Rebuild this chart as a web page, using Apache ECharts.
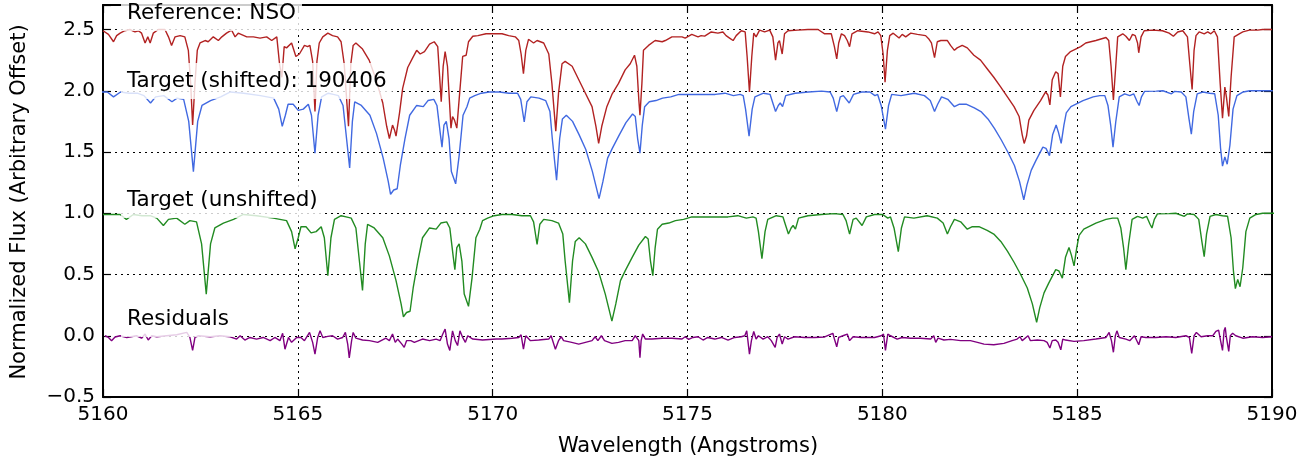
<!DOCTYPE html>
<html>
<head>
<meta charset="utf-8">
<script src="https://cdn.jsdelivr.net/npm/echarts@6/dist/echarts.min.js"></script>
<style>
html,body{margin:0;padding:0;background:#fff;}
#chart{width:1315px;height:465px;}
</style>
</head>
<body>
<div id="chart"></div>
<script>
// ---------------- DATA ----------------
// Target spectrum (unshifted), [wavelength Å, normalized flux]
const targetSpectrum = [
[5160.00,0.99],[5160.05,0.99],[5160.25,0.99],[5160.44,0.99],[5160.60,0.95],[5160.78,0.99],[5161.00,0.98],
[5161.21,0.98],[5161.38,0.96],[5161.55,0.90],[5161.68,0.95],[5161.89,0.96],[5162.10,0.91],[5162.23,0.94],
[5162.40,0.93],[5162.53,0.75],[5162.65,0.34],[5162.76,0.75],[5162.87,0.88],[5163.09,0.92],[5163.35,0.95],
[5163.60,0.99],[5163.94,0.98],[5164.37,0.96],[5164.71,0.94],[5164.84,0.85],[5164.93,0.71],[5165.01,0.80],
[5165.08,0.89],[5165.21,0.89],[5165.34,0.84],[5165.47,0.85],[5165.60,0.89],[5165.68,0.80],[5165.77,0.49],
[5165.85,0.80],[5165.94,0.95],[5166.11,0.98],[5166.24,0.97],[5166.37,0.96],[5166.49,0.88],[5166.58,0.61],
[5166.66,0.37],[5166.73,0.75],[5166.79,0.91],[5166.96,0.88],[5167.18,0.80],[5167.35,0.65],[5167.52,0.45],
[5167.65,0.26],[5167.71,0.155],[5167.79,0.19],[5167.88,0.20],[5167.96,0.39],[5168.08,0.61],[5168.20,0.80],
[5168.38,0.88],[5168.55,0.87],[5168.67,0.92],[5168.82,0.93],[5168.90,0.88],[5168.99,0.64],[5169.03,0.54],
[5169.08,0.72],[5169.14,0.75],[5169.21,0.61],[5169.27,0.34],[5169.38,0.24],[5169.47,0.47],[5169.57,0.80],
[5169.67,0.87],[5169.74,0.94],[5169.87,0.96],[5170.04,0.98],[5170.24,0.99],[5170.50,0.99],[5170.75,0.98],
[5170.97,0.98],[5171.05,0.93],[5171.14,0.745],[5171.21,0.91],[5171.31,0.95],[5171.52,0.94],[5171.69,0.92],
[5171.80,0.83],[5171.86,0.61],[5171.97,0.27],[5172.05,0.61],[5172.12,0.77],[5172.22,0.80],[5172.38,0.75],
[5172.55,0.64],[5172.72,0.52],[5172.89,0.34],[5173.06,0.12],[5173.16,0.26],[5173.28,0.45],[5173.40,0.53],
[5173.58,0.64],[5173.75,0.74],[5173.92,0.81],[5173.99,0.79],[5174.05,0.61],[5174.11,0.49],[5174.17,0.72],
[5174.23,0.87],[5174.35,0.91],[5174.52,0.92],[5174.69,0.94],[5174.90,0.95],[5175.11,0.97],[5175.27,0.97],
[5175.52,0.97],[5175.78,0.97],[5176.04,0.97],[5176.29,0.98],[5176.51,0.96],[5176.68,0.97],[5176.76,0.96],
[5176.82,0.85],[5176.91,0.63],[5176.99,0.85],[5177.06,0.95],[5177.28,0.98],[5177.45,0.97],[5177.53,0.89],
[5177.59,0.83],[5177.66,0.88],[5177.71,0.90],[5177.77,0.87],[5177.85,0.96],[5178.09,0.98],[5178.43,0.99],
[5178.77,0.997],[5178.99,0.99],[5179.07,0.94],[5179.16,0.83],[5179.25,0.95],[5179.33,0.96],[5179.48,0.90],
[5179.59,0.97],[5179.80,0.99],[5180.01,0.99],[5180.14,0.96],[5180.21,0.97],[5180.30,0.88],[5180.41,0.686],
[5180.49,0.88],[5180.57,0.97],[5180.81,0.96],[5181.15,0.98],[5181.41,0.96],[5181.56,0.92],[5181.67,0.83],
[5181.75,0.89],[5181.85,0.95],[5182.01,0.93],[5182.18,0.87],[5182.31,0.89],[5182.48,0.89],[5182.69,0.86],
[5182.86,0.83],[5183.04,0.77],[5183.21,0.69],[5183.38,0.60],[5183.55,0.50],[5183.72,0.39],[5183.85,0.26],
[5183.96,0.11],[5184.04,0.23],[5184.15,0.35],[5184.27,0.43],[5184.45,0.54],[5184.53,0.53],[5184.62,0.47],
[5184.70,0.64],[5184.79,0.72],[5184.85,0.66],[5184.92,0.57],[5184.99,0.72],[5185.05,0.82],[5185.17,0.87],
[5185.22,0.88],[5185.48,0.92],[5185.74,0.95],[5185.91,0.96],[5186.04,0.96],[5186.12,0.88],[5186.19,0.72],
[5186.25,0.54],[5186.32,0.745],[5186.41,0.95],[5186.55,0.975],[5186.68,0.96],[5186.78,0.975],[5186.87,0.91],
[5186.92,0.88],[5186.98,0.95],[5187.06,0.995],[5187.36,0.997],[5187.53,1.0],[5187.75,0.975],[5187.83,0.995],
[5188.00,0.99],[5188.12,0.95],[5188.20,0.77],[5188.26,0.645],[5188.32,0.83],[5188.41,0.975],[5188.56,0.99],
[5188.73,0.98],[5188.86,0.975],[5188.95,0.80],[5189.01,0.53],[5189.06,0.385],[5189.12,0.46],[5189.18,0.40],
[5189.25,0.555],[5189.33,0.85],[5189.43,0.96],[5189.59,0.99],[5189.76,1.0],[5189.97,1.0],[5190.35,1.0]
];

// Reference NSO solar spectrum, [wavelength Å, normalized flux]
const referenceSpectrum = [
[5160.00,0.99],[5160.05,0.99],[5160.14,0.96],[5160.27,0.90],[5160.35,0.95],[5160.44,0.97],[5160.56,0.99],
[5160.69,1.0],[5160.82,0.98],[5160.91,0.99],[5160.99,0.97],[5161.08,0.89],[5161.15,0.94],[5161.21,0.89],
[5161.29,0.97],[5161.42,1.0],[5161.59,1.0],[5161.68,0.94],[5161.76,0.87],[5161.85,0.94],[5161.98,0.95],
[5162.10,0.94],[5162.19,0.83],[5162.25,0.56],[5162.30,0.22],[5162.36,0.56],[5162.42,0.83],[5162.49,0.89],
[5162.62,0.91],[5162.70,0.90],[5162.83,0.94],[5162.96,0.91],[5163.05,0.94],[5163.17,0.97],[5163.30,0.995],
[5163.39,0.94],[5163.47,0.97],[5163.69,0.94],[5163.86,0.94],[5164.03,0.93],[5164.20,0.94],[5164.33,0.91],
[5164.46,0.94],[5164.53,0.72],[5164.59,0.61],[5164.65,0.86],[5164.71,0.85],[5164.84,0.89],[5164.95,0.78],
[5165.04,0.80],[5165.17,0.87],[5165.25,0.86],[5165.31,0.87],[5165.38,0.74],[5165.44,0.33],[5165.49,0.74],
[5165.55,0.89],[5165.64,0.94],[5165.77,0.97],[5165.89,0.95],[5166.02,0.94],[5166.11,0.90],[5166.19,0.72],
[5166.30,0.21],[5166.36,0.72],[5166.42,0.87],[5166.49,0.89],[5166.66,0.84],[5166.83,0.75],[5167.01,0.59],
[5167.18,0.40],[5167.28,0.21],[5167.35,0.11],[5167.43,0.22],[5167.48,0.18],[5167.52,0.13],[5167.61,0.32],
[5167.69,0.52],[5167.82,0.69],[5167.95,0.77],[5168.05,0.83],[5168.14,0.80],[5168.25,0.82],[5168.38,0.88],
[5168.50,0.90],[5168.59,0.86],[5168.65,0.56],[5168.68,0.41],[5168.73,0.70],[5168.78,0.82],[5168.84,0.70],
[5168.93,0.195],[5168.97,0.29],[5169.02,0.26],[5169.08,0.195],[5169.14,0.43],[5169.23,0.78],[5169.32,0.79],
[5169.38,0.90],[5169.49,0.945],[5169.62,0.95],[5169.83,0.965],[5170.09,0.965],[5170.24,0.965],[5170.41,0.95],
[5170.58,0.94],[5170.67,0.91],[5170.73,0.80],[5170.79,0.64],[5170.85,0.83],[5170.92,0.92],[5171.05,0.89],
[5171.14,0.91],[5171.31,0.89],[5171.44,0.80],[5171.52,0.56],[5171.62,0.17],[5171.69,0.48],[5171.78,0.72],
[5171.86,0.74],[5172.04,0.70],[5172.21,0.59],[5172.38,0.48],[5172.55,0.37],[5172.65,0.21],[5172.72,0.07],
[5172.80,0.21],[5172.93,0.37],[5173.06,0.47],[5173.23,0.56],[5173.40,0.67],[5173.53,0.72],[5173.64,0.79],
[5173.70,0.70],[5173.75,0.43],[5173.78,0.30],[5173.83,0.56],[5173.87,0.83],[5174.00,0.87],[5174.17,0.91],
[5174.35,0.90],[5174.43,0.91],[5174.60,0.94],[5174.86,0.94],[5174.94,0.93],[5175.11,0.96],[5175.27,0.94],
[5175.35,0.95],[5175.44,0.946],[5175.61,0.98],[5175.78,0.97],[5175.91,0.98],[5175.99,0.95],[5176.08,0.93],
[5176.17,0.91],[5176.25,0.95],[5176.38,0.99],[5176.48,0.98],[5176.53,0.78],[5176.59,0.49],[5176.65,0.78],
[5176.70,0.97],[5176.76,0.94],[5176.85,0.995],[5176.98,0.98],[5177.11,0.995],[5177.19,0.94],[5177.26,0.75],
[5177.32,0.89],[5177.36,0.91],[5177.43,0.80],[5177.49,0.965],[5177.58,0.99],[5177.83,0.995],[5178.09,1.0],
[5178.35,1.0],[5178.52,0.965],[5178.69,0.965],[5178.77,0.86],[5178.83,0.76],[5178.88,0.89],[5178.95,0.965],
[5179.03,0.95],[5179.10,0.91],[5179.16,0.86],[5179.22,0.965],[5179.37,0.99],[5179.63,0.98],[5179.80,0.965],
[5179.89,0.98],[5179.96,0.95],[5180.02,0.80],[5180.07,0.57],[5180.13,0.83],[5180.19,0.95],[5180.28,0.97],
[5180.43,0.93],[5180.51,0.96],[5180.60,0.94],[5180.73,0.97],[5180.90,0.96],[5181.11,0.95],[5181.20,0.92],
[5181.26,0.89],[5181.34,0.77],[5181.41,0.90],[5181.50,0.91],[5181.67,0.91],[5181.75,0.87],[5181.85,0.83],
[5181.92,0.85],[5182.05,0.87],[5182.18,0.85],[5182.35,0.79],[5182.52,0.75],[5182.69,0.68],[5182.86,0.61],
[5183.04,0.53],[5183.21,0.45],[5183.38,0.37],[5183.51,0.29],[5183.59,0.14],[5183.64,0.07],[5183.70,0.13],
[5183.76,0.26],[5183.89,0.34],[5184.06,0.42],[5184.19,0.49],[5184.25,0.465],[5184.30,0.385],[5184.36,0.59],
[5184.45,0.655],[5184.51,0.64],[5184.57,0.45],[5184.63,0.70],[5184.70,0.78],[5184.83,0.82],[5184.96,0.84],
[5185.09,0.86],[5185.22,0.89],[5185.48,0.91],[5185.74,0.935],[5185.81,0.91],[5185.87,0.70],[5185.93,0.425],
[5185.99,0.70],[5186.04,0.94],[5186.17,0.965],[5186.25,0.945],[5186.34,0.91],[5186.42,0.96],[5186.49,0.95],
[5186.55,0.89],[5186.58,0.81],[5186.64,0.94],[5186.72,0.99],[5186.94,0.995],[5187.19,0.99],[5187.36,0.97],
[5187.47,0.945],[5187.58,0.98],[5187.71,0.99],[5187.83,0.94],[5187.89,0.72],[5187.95,0.51],[5188.00,0.83],
[5188.05,0.95],[5188.13,0.98],[5188.26,0.965],[5188.35,0.98],[5188.43,0.965],[5188.52,0.99],[5188.60,0.94],
[5188.67,0.56],[5188.73,0.275],[5188.79,0.53],[5188.83,0.45],[5188.89,0.29],[5188.95,0.61],[5189.03,0.94],
[5189.16,0.965],[5189.25,0.98],[5189.42,0.995],[5189.63,0.995],[5189.76,1.0],[5190.00,1.0]
];

// Residuals, [wavelength Å, residual flux]
const residualSpectrum = [
[5160.05,0.0],[5160.14,-0.014],[5160.22,-0.04],[5160.31,-0.01],[5160.44,0.0],[5160.61,-0.014],[5160.86,0.0],
[5160.99,-0.02],[5161.08,0.014],[5161.16,-0.035],[5161.25,0.0],[5161.38,-0.008],[5161.63,0.0],[5161.89,0.008],
[5162.15,0.027],[5162.23,-0.014],[5162.30,-0.12],[5162.36,-0.014],[5162.45,0.0],[5162.75,-0.008],[5163.00,0.0],
[5163.26,-0.008],[5163.43,-0.027],[5163.52,0.0],[5163.64,-0.035],[5163.77,-0.014],[5163.94,-0.027],[5164.11,-0.014],
[5164.29,-0.04],[5164.41,-0.014],[5164.54,-0.04],[5164.61,0.02],[5164.67,-0.11],[5164.76,-0.014],[5164.84,-0.054],
[5164.97,-0.014],[5165.08,-0.014],[5165.17,-0.04],[5165.30,0.027],[5165.38,-0.054],[5165.44,-0.15],[5165.51,-0.014],
[5165.57,0.04],[5165.64,-0.014],[5165.77,-0.005],[5165.89,0.0],[5166.02,-0.027],[5166.15,-0.014],[5166.22,0.027],
[5166.28,-0.068],[5166.32,-0.18],[5166.38,-0.04],[5166.42,0.027],[5166.49,-0.02],[5166.66,-0.035],[5166.84,-0.04],
[5167.05,-0.054],[5167.26,-0.02],[5167.35,-0.04],[5167.43,0.014],[5167.50,-0.054],[5167.56,-0.027],[5167.67,-0.068],
[5167.73,-0.095],[5167.79,-0.04],[5167.90,-0.04],[5167.99,-0.054],[5168.20,-0.027],[5168.38,-0.04],[5168.55,-0.027],
[5168.65,-0.04],[5168.72,0.014],[5168.78,0.054],[5168.84,-0.068],[5168.90,-0.12],[5168.97,0.04],[5169.04,-0.04],
[5169.10,-0.08],[5169.16,0.04],[5169.23,-0.014],[5169.30,-0.054],[5169.36,0.0],[5169.49,-0.027],[5169.74,-0.035],
[5170.09,-0.027],[5170.24,-0.027],[5170.50,-0.02],[5170.67,-0.014],[5170.73,0.008],[5170.79,-0.11],[5170.85,0.0],
[5170.97,-0.04],[5171.18,-0.035],[5171.44,-0.027],[5171.50,0.0],[5171.61,-0.11],[5171.69,-0.04],[5171.76,-0.008],
[5171.82,-0.04],[5172.03,-0.054],[5172.21,-0.068],[5172.38,-0.054],[5172.55,-0.04],[5172.63,-0.008],[5172.70,-0.04],
[5172.79,0.0],[5172.87,-0.04],[5173.06,-0.062],[5173.23,-0.054],[5173.40,-0.04],[5173.58,-0.04],[5173.66,0.0],
[5173.70,0.014],[5173.75,-0.04],[5173.78,-0.18],[5173.81,-0.04],[5173.85,0.014],[5173.92,-0.027],[5174.09,-0.027],
[5174.35,-0.02],[5174.60,-0.02],[5174.86,-0.027],[5174.94,-0.008],[5175.03,-0.03],[5175.14,-0.014],[5175.27,-0.008],
[5175.40,-0.035],[5175.52,-0.014],[5175.70,-0.027],[5175.87,-0.014],[5176.04,-0.035],[5176.21,-0.014],[5176.38,-0.008],
[5176.47,0.0],[5176.52,0.04],[5176.55,-0.04],[5176.59,-0.15],[5176.64,-0.04],[5176.70,0.035],[5176.76,-0.027],
[5176.82,0.0],[5176.94,-0.027],[5177.06,-0.008],[5177.15,-0.04],[5177.25,-0.095],[5177.30,-0.014],[5177.36,0.014],
[5177.43,-0.068],[5177.49,-0.008],[5177.58,-0.027],[5177.75,-0.008],[5178.00,-0.014],[5178.26,-0.014],[5178.52,-0.01],
[5178.73,0.02],[5178.77,-0.027],[5178.83,-0.09],[5178.88,-0.014],[5178.99,0.0],[5179.10,0.014],[5179.16,-0.04],
[5179.25,-0.008],[5179.46,-0.014],[5179.80,-0.014],[5179.97,0.0],[5180.03,0.014],[5180.08,-0.12],[5180.14,0.014],
[5180.21,0.0],[5180.38,-0.027],[5180.51,-0.014],[5180.73,-0.02],[5180.98,-0.02],[5181.24,-0.027],[5181.32,0.0],
[5181.37,-0.054],[5181.43,-0.02],[5181.58,-0.035],[5181.75,-0.03],[5182.01,-0.04],[5182.26,-0.04],[5182.44,-0.054],
[5182.61,-0.068],[5182.86,-0.073],[5183.12,-0.062],[5183.33,-0.04],[5183.46,-0.027],[5183.53,-0.008],[5183.59,-0.04],
[5183.74,0.0],[5183.80,-0.04],[5183.98,-0.035],[5184.15,-0.04],[5184.23,-0.054],[5184.30,-0.10],[5184.36,-0.04],
[5184.45,-0.035],[5184.51,-0.054],[5184.58,-0.115],[5184.63,-0.027],[5184.70,-0.035],[5184.92,-0.046],[5185.17,-0.04],
[5185.22,-0.04],[5185.48,-0.027],[5185.74,-0.014],[5185.82,0.027],[5185.88,-0.04],[5185.93,-0.135],[5185.98,0.0],
[5186.02,0.04],[5186.08,-0.014],[5186.25,-0.027],[5186.35,-0.04],[5186.47,0.0],[5186.51,-0.014],[5186.58,-0.073],
[5186.64,-0.008],[5186.76,-0.014],[5187.02,-0.014],[5187.28,-0.008],[5187.53,-0.014],[5187.79,0.0],[5187.88,-0.014],
[5187.94,-0.145],[5188.00,0.0],[5188.06,0.027],[5188.18,-0.008],[5188.35,0.0],[5188.48,0.0],[5188.56,0.035],
[5188.63,0.046],[5188.68,-0.04],[5188.73,-0.12],[5188.77,0.04],[5188.80,0.068],[5188.83,-0.014],[5188.89,-0.127],
[5188.93,0.0],[5188.99,0.02],[5189.07,0.0],[5189.25,-0.02],[5189.50,-0.008],[5189.76,-0.014],[5190.00,-0.008]
];

const WAVE_SHIFT = -0.33;     // Å, applied to the target for the shifted copy
const OFFSET_REFERENCE = 1.5;
const OFFSET_SHIFTED = 1.0;
const OFFSET_UNSHIFTED = 0.0;
const OFFSET_RESIDUALS = 0.0;

const xTicks = [5160, 5165, 5170, 5175, 5180, 5185, 5190];
const yTicks = [-0.5, 0.0, 0.5, 1.0, 1.5, 2.0, 2.5];

const seriesLabels = ['Reference: NSO', 'Target (shifted): 190406', 'Target (unshifted)', 'Residuals'];
const xAxisTitle = 'Wavelength (Angstroms)';
const yAxisTitle = 'Normalized Flux (Arbitrary Offset)';

// ---------------- CHART ----------------
const offsetSeries = (arr, dx, dy) => arr.map(p => [p[0] + dx, p[1] + dy]);

const chart = echarts.init(document.getElementById('chart'), null, {renderer: 'canvas'});
const FONT = 'DejaVu Sans';
const FS_TICK = 20;
const FS_LABEL = 21.5;
const FS_TITLE = 21;
const gridLeft = 103, gridTop = 5, gridRight = 43, gridBottom = 68;

function yFmt(v) {
  if (!yTicks.some(t => Math.abs(t - v) < 1e-6)) return '';
  return (v < 0 ? '\u2212' : '') + Math.abs(v).toFixed(1);
}
function xFmt(v) {
  if (!xTicks.some(t => Math.abs(t - v) < 1e-6)) return '';
  return String(Math.round(v));
}

const lineW = 1.4;
const tickStyle = {show: true, inside: true, length: 8, lineStyle: {color: '#000', width: 1.2}};
const splitStyle = {show: true, lineStyle: {color: '#000', width: 1, type: [2, 4]}};

const labelYs = [13, 81, 200, 319];
const graphics = seriesLabels.map((t, i) => ({
  type: 'text', left: 121, top: labelYs[i] - 18, z: 100,
  style: {
    text: t, font: FS_LABEL + 'px "' + FONT + '"', fill: '#000',
    backgroundColor: 'rgba(255,255,255,0.8)', padding: [7, 6, 7, 6], lineHeight: 22
  }
}));
graphics.push({
  type: 'text', z: 100, x: 688, y: 447,
  style: {text: xAxisTitle, font: FS_TITLE + 'px "' + FONT + '"', fill: '#000', align: 'center', verticalAlign: 'middle'}
});
graphics.push({
  type: 'text', z: 100, x: 20, y: 202, rotation: Math.PI / 2,
  style: {text: yAxisTitle, font: FS_TITLE + 'px "' + FONT + '"', fill: '#000', align: 'center', verticalAlign: 'middle'}
});

const option = {
  animation: false,
  backgroundColor: '#fff',
  grid: {left: gridLeft, right: gridRight, top: gridTop, bottom: gridBottom, containLabel: false},
  xAxis: [{
    type: 'value', min: 5160, max: 5190, interval: 5, position: 'bottom',
    axisLine: {show: true, onZero: false, lineStyle: {color: '#000', width: 2}},
    axisTick: tickStyle,
    axisLabel: {show: true, formatter: xFmt, color: '#000', fontFamily: FONT, fontSize: FS_TICK, margin: 8},
    splitLine: splitStyle
  }, {
    type: 'value', min: 5160, max: 5190, interval: 5, position: 'top',
    axisLine: {show: true, onZero: false, lineStyle: {color: '#000', width: 2}},
    axisTick: tickStyle, axisLabel: {show: false}, splitLine: {show: false}
  }],
  yAxis: [{
    type: 'value', min: -0.5, max: 2.7, interval: 0.5, position: 'left',
    axisLine: {show: true, onZero: false, lineStyle: {color: '#000', width: 2}},
    axisTick: tickStyle,
    axisLabel: {show: true, formatter: yFmt, color: '#000', fontFamily: FONT, fontSize: FS_TICK, margin: 8},
    splitLine: splitStyle
  }, {
    type: 'value', min: -0.5, max: 2.7, interval: 0.5, position: 'right',
    axisLine: {show: true, onZero: false, lineStyle: {color: '#000', width: 2}},
    axisTick: tickStyle, axisLabel: {show: false}, splitLine: {show: false}
  }],
  series: [
    {name: seriesLabels[0], type: 'line', showSymbol: false, symbol: 'none', clip: true,
     data: offsetSeries(referenceSpectrum, 0, OFFSET_REFERENCE), lineStyle: {color: '#b22222', width: lineW}},
    {name: seriesLabels[1], type: 'line', showSymbol: false, symbol: 'none', clip: true,
     data: offsetSeries(targetSpectrum, WAVE_SHIFT, OFFSET_SHIFTED), lineStyle: {color: '#4169e1', width: lineW}},
    {name: seriesLabels[2], type: 'line', showSymbol: false, symbol: 'none', clip: true,
     data: offsetSeries(targetSpectrum, 0, OFFSET_UNSHIFTED), lineStyle: {color: '#228b22', width: lineW}},
    {name: seriesLabels[3], type: 'line', showSymbol: false, symbol: 'none', clip: true,
     data: offsetSeries(residualSpectrum, 0, OFFSET_RESIDUALS), lineStyle: {color: '#800080', width: lineW}}
  ],
  graphic: graphics
};
chart.setOption(option);
</script>
</body>
</html>
